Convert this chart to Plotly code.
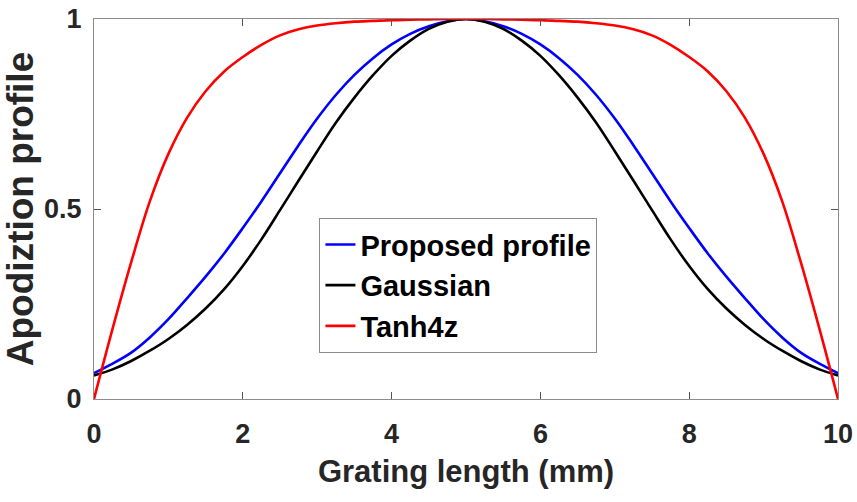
import plotly.graph_objects as go

# Grating length (mm)
x_mm = [0, 0.25, 0.5, 0.75, 1.0, 1.25, 1.5, 1.75, 2.0, 2.25, 2.5, 2.75, 3.0, 3.25, 3.5, 3.75, 4.0, 4.25, 4.5, 4.75, 5.0,
        5.25, 5.5, 5.75, 6.0, 6.25, 6.5, 6.75, 7.0, 7.25, 7.5, 7.75, 8.0, 8.25, 8.5, 8.75, 9.0, 9.25, 9.5, 9.75, 10.0]

proposed = [0.068, 0.093, 0.122, 0.162, 0.21, 0.265, 0.322, 0.383, 0.45, 0.52, 0.594, 0.668, 0.738, 0.80, 0.853, 0.897, 0.933, 0.961, 0.981, 0.994, 1.0,
            0.994, 0.981, 0.961, 0.933, 0.897, 0.853, 0.80, 0.738, 0.668, 0.594, 0.52, 0.45, 0.383, 0.322, 0.265, 0.21, 0.162, 0.122, 0.093, 0.068]

gaussian = [0.062, 0.078, 0.10, 0.127, 0.158, 0.195, 0.238, 0.289, 0.35, 0.42, 0.497, 0.575, 0.652, 0.727, 0.793, 0.852, 0.903, 0.943, 0.974, 0.993, 1.0,
            0.993, 0.974, 0.943, 0.903, 0.852, 0.793, 0.727, 0.652, 0.575, 0.497, 0.42, 0.35, 0.289, 0.238, 0.195, 0.158, 0.127, 0.10, 0.078, 0.062]

tanh4z = [0.0, 0.185, 0.36, 0.52, 0.645, 0.74, 0.81, 0.862, 0.90, 0.932, 0.957, 0.973, 0.983, 0.989, 0.993, 0.995, 0.997, 0.998, 0.999, 1.0, 1.0,
          1.0, 0.999, 0.998, 0.997, 0.995, 0.993, 0.989, 0.983, 0.973, 0.957, 0.932, 0.90, 0.862, 0.81, 0.74, 0.645, 0.52, 0.36, 0.185, 0.0]

series_names = ["Proposed profile", "Gaussian", "Tanh4z"]
series_colors = ["#0000FF", "#000000", "#FF0000"]

x_ticks = [0, 2, 4, 6, 8, 10]
y_ticks = [0, 0.5, 1]
y_ticklabels = ["0", "0.5", "1"]

fig = go.Figure()
for name, ys, col in zip(series_names, [proposed, gaussian, tanh4z], series_colors):
    fig.add_trace(go.Scatter(x=x_mm, y=ys, mode="lines", name=name,
                             line=dict(color=col, width=2.6, shape="spline", smoothing=1.0)))

font_fam = "Liberation Sans, Arial, sans-serif"
axis_common = dict(showline=True, linecolor="#8c8c8c", linewidth=1.2, mirror="allticks",
                   ticks="inside", ticklen=7, tickcolor="#555555", tickwidth=1,
                   showgrid=False, zeroline=False, automargin=False,
                   tickfont=dict(family=font_fam, size=27, color="#262626", weight="bold"))

fig.update_layout(
    width=857, height=502,
    margin=dict(l=94, r=19, t=19, b=103, autoexpand=False),
    paper_bgcolor="white", plot_bgcolor="white",
    showlegend=True,
    legend=dict(x=0.303, y=0.476, xanchor="left", yanchor="top",
                bgcolor="white", bordercolor="#8c8c8c", borderwidth=1,
                font=dict(family=font_fam, size=29, color="black", weight="bold"),
                itemwidth=30, tracegroupgap=0),
    xaxis=dict(range=[0, 10], tickvals=x_ticks, ticklabelstandoff=10,
               title=dict(text="Grating length (mm)", standoff=12,
                          font=dict(family=font_fam, size=31, color="#262626", weight="bold")),
               **axis_common),
    yaxis=dict(range=[0, 1], tickvals=y_ticks, ticktext=y_ticklabels, ticklabelstandoff=6,
               title=dict(text="Apodiztion profile", standoff=10,
                          font=dict(family=font_fam, size=37, color="#262626", weight="bold")),
               **axis_common),
)

fig.write_html("out.html")
